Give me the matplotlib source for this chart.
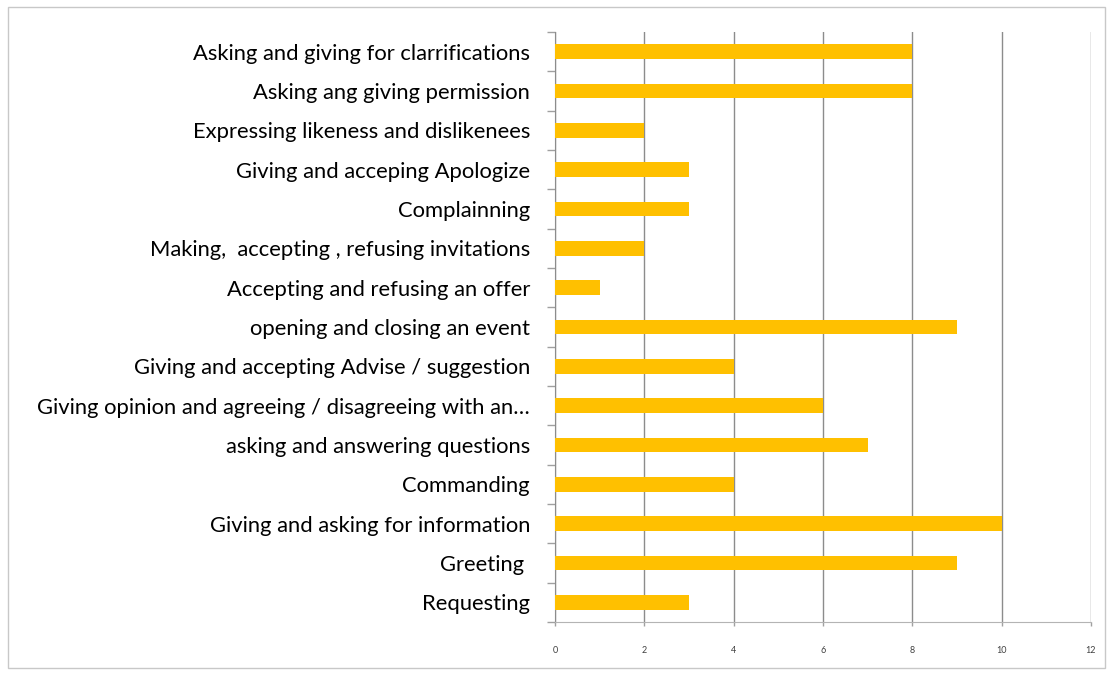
import matplotlib.pyplot as plt
from matplotlib.ticker import FixedLocator, MultipleLocator
from matplotlib.patches import Rectangle

# Datos (de abajo hacia arriba)
etiquetas = [
    'Requesting',
    'Greeting ',
    'Giving and asking for information',
    'Commanding',
    'asking and answering questions',
    'Giving opinion and agreeing / disagreeing with an…',
    'Giving and accepting Advise / suggestion',
    'opening and closing an event',
    'Accepting and refusing an offer',
    'Making,  accepting , refusing invitations',
    'Complainning',
    'Giving and acceping Apologize',
    'Expressing likeness and dislikenees',
    'Asking ang giving permission',
    'Asking and giving for clarrifications',
]
valores = [3, 9, 10, 4, 7, 6, 4, 9, 1, 2, 3, 3, 2, 8, 8]
x_ticks = [0, 2, 4, 6, 8, 10, 12]

plt.rcParams['font.family'] = ['Lato', 'DejaVu Sans']

fig = plt.figure(figsize=(11.11, 6.74), dpi=100)
# Marco exterior
fig.patches.append(Rectangle((8 / 1111, 6 / 674), 1097 / 1111, 661 / 674,
                             transform=fig.transFigure, fill=False,
                             edgecolor='#c8c8c8', linewidth=1))

ax = fig.add_axes([555 / 1111, 1 - 622 / 674, (1091 - 555) / 1111, (622 - 32) / 674])
pos = list(range(len(etiquetas)))
ax.barh(pos, valores, height=0.38, color='#FFC000', zorder=3)

ax.set_xlim(0, 12)
ax.set_ylim(-0.5, len(etiquetas) - 0.5)
ax.xaxis.set_major_locator(FixedLocator(x_ticks))
ax.set_xticklabels([str(t) for t in x_ticks], fontsize=6.5, color='#404040')
ax.set_yticks(pos)
ax.set_yticklabels(etiquetas, fontsize=15.8, color='#000000')
ax.yaxis.set_minor_locator(MultipleLocator(1, offset=0.5))

ax.tick_params(axis='y', which='major', length=0, pad=18)
ax.tick_params(axis='y', which='minor', length=6, color='#a0a0a0', width=1)
ax.tick_params(axis='x', which='major', length=3, color='#a0a0a0', width=1, pad=14)

ax.grid(True, axis='x', color='#8c8c8c', linewidth=1, zorder=0)
for s in ['top', 'right']:
    ax.spines[s].set_visible(False)
ax.spines['left'].set_color('#8c8c8c')
ax.spines['bottom'].set_color('#b4b4b4')

fig.savefig('out.png', dpi=100)
